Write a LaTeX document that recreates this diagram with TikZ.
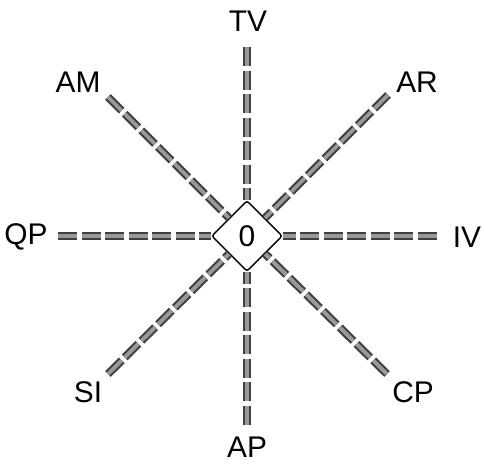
\documentclass[tikz,border=0pt]{standalone}
\usepackage{fontspec}
\setmainfont{Liberation Sans}
\usetikzlibrary{shapes.geometric}
\begin{document}
\begin{tikzpicture}[x=0.02cm,y=-0.02cm, every node/.style={font=\fontsize{17}{20}\selectfont, inner sep=0pt},
  ray/.style={draw=black!75, double=gray!80, line width=1.2pt, double distance=2.2pt, dash pattern=on 11pt off 2.4pt}]
\useasboundingbox (0,0) rectangle (484,466);
\node[diamond, draw, line width=0.8pt, rounded corners=1.5pt, minimum width=1.42cm, minimum height=1.42cm, font=\fontsize{17}{20}\selectfont] (O) at (247,236) {0};
% ends of the rays
\coordinate (tv) at (247,47);
\coordinate (ar) at (388,95);
\coordinate (iv) at (437,236);
\coordinate (cp) at (387,374);
\coordinate (ap) at (247,425);
\coordinate (si) at (108,374);
\coordinate (qp) at (58,236);
\coordinate (am) at (108,97);
\foreach \e in {tv,ar,iv,cp,ap,si,qp,am}
  \draw[ray] (\e) -- (O);
\node (TV) at (248,21) {TV};
\node (AR) at (417,82) {AR};
\node (IV) at (467,237) {IV};
\node (CP) at (413,392) {CP};
\node (AP) at (247,447) {AP};
\node (SI) at (88,392) {SI};
\node (QP) at (26,237) {QP};
\node (AM) at (78,82) {AM};
\end{tikzpicture}
\end{document}
